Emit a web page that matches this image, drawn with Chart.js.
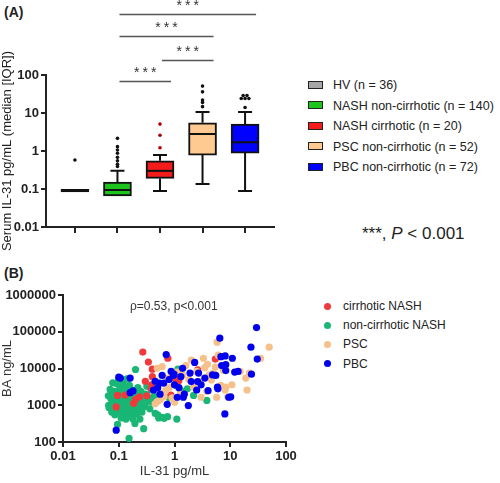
<!DOCTYPE html>
<html lang="en">
<head>
<meta charset="UTF-8" />
<title>IL-31 figure</title>
<script src="https://cdn.jsdelivr.net/npm/chart.js"></script>
<style>
  body { margin: 0; width: 500px; height: 483px; position: relative; background: #fff;
         font-family: Arial, "Liberation Sans", sans-serif; color: #222; overflow: hidden; }
  canvas { position: absolute; }
  .t { position: absolute; white-space: nowrap; line-height: 14px; }
  .panel { font-weight: bold; font-size: 14px; }
  .sw { position: absolute; width: 13px; height: 6px; border: 1.5px solid #222; }
  .dot { position: absolute; width: 7px; height: 7px; border-radius: 50%; }
</style>
</head>
<body>
<div class="t panel" style="left:4px;top:5px">(A)</div>
<div class="t panel" style="left:4px;top:266px">(B)</div>
<canvas id="boxChart" width="280" height="260" style="left:0;top:0"></canvas>
<canvas id="scatterChart" width="300" height="223" style="left:0;top:260px"></canvas>
<div id="legendA"></div>
<div class="t" style="left:362px;top:224px;font-size:17px;line-height:20px">***, <i>P</i> &lt; 0.001</div>
<div class="t" style="left:130px;top:299px;font-size:12px;color:#333">&rho;=0.53, p&lt;0.001</div>
<div id="legendB"></div>
<script>
// ---- panel A data ----
const groups = ["HV (n = 36)", "NASH non-cirrhotic (n = 140)", "NASH cirrhotic (n = 20)",
                "PSC non-cirrhotic (n = 52)", "PBC non-cirrhotic (n = 72)"];
const boxLow = [0.084, 0.066, 0.19, 0.78, 0.88];
const boxHigh = [0.098, 0.153, 0.55, 5.5, 5.1];
const medians = [0.09, 0.094, 0.3, 2.8, 1.7];
const whiskLow = [0.09, 0.066, 0.088, 0.135, 0.088];
const whiskHigh = [0.09, 0.3, 0.78, 10.6, 10.6];
const outliers = [
  [0.58],
  [0.39, 0.45, 0.55, 0.68, 0.87, 1.06, 1.3, 2.15],
  [1.22, 2.6, 5.1],
  [14.7, 19, 22, 36, 51],
  [14, 24, 24, 24, 29, 29]
];
const yTicksA = [0.01, 0.1, 1, 10, 100];
// comparisons: [from group, to group, height]
const brackets = [[1, 4, 4000], [1, 3, 1060], [2, 3, 248], [1, 2, 69]];

// ---- panel B data ([IL-31, BA]) ----
const seriesB = ["cirrhotic NASH", "non-cirrhotic NASH", "PSC", "PBC"];
const cirrNash = [[0.09,900],[0.095,1850],[0.13,1900],[0.185,1130],[0.2,1450],[0.235,1700],[0.27,28000],
  [0.3,4500],[0.32,1800],[0.34,15000],[0.38,2900],[0.39,3600],[0.4,6000],[0.4,9600],[0.76,19000],
  [0.86,1900],[1.05,5200],[1.2,4700],[2.6,9200],[5.4,18000]];
const nonCirrNash = [[0.065,1800],[0.066,1000],[0.067,850],[0.07,2700],[0.072,1500],[0.075,650],[0.078,4100],
  [0.08,1900],[0.08,1200],[0.082,800],[0.085,550],[0.085,2400],[0.088,1600],[0.09,3900],[0.09,1000],
  [0.092,700],[0.095,300],[0.095,1300],[0.1,2200],[0.1,5000],[0.1,850],[0.1,600],[0.105,1700],[0.105,3100],
  [0.11,1100],[0.11,450],[0.112,750],[0.115,2600],[0.118,1400],[0.12,950],[0.12,3800],[0.122,650],
  [0.125,1900],[0.125,550],[0.13,1200],[0.13,2900],[0.135,800],[0.135,420],[0.14,1600],[0.14,5200],
  [0.145,1000],[0.15,700],[0.15,2300],[0.153,126],[0.155,3500],[0.16,1300],[0.16,500],[0.165,850],
  [0.17,1900],[0.17,620],[0.175,2600],[0.18,1100],[0.18,420],[0.185,750],[0.19,1500],[0.195,320],
  [0.2,9400],[0.2,950],[0.2,2000],[0.21,580],[0.21,1250],[0.22,3000],[0.22,800],[0.23,1700],[0.24,1050],
  [0.24,420],[0.25,2400],[0.26,650],[0.27,1400],[0.28,230],[0.28,900],[0.3,2000],[0.3,1100],[0.32,3300],
  [0.33,1600],[0.35,1300],[0.36,800],[0.38,2600],[0.4,1200],[0.42,1700],[0.45,600],[0.46,1750],[0.5,550],
  [0.52,450],[0.6,470],[0.65,440],[0.75,490],[0.8,1600],[1.05,3500],[1.1,420],[1.15,9600],[1.3,2500],
  [1.7,2800],[2.2,1850],[3.8,1350]];
const psc = [[0.45,1100],[0.49,1260],[0.49,10100],[0.55,1400],[0.6,11300],[0.65,1700],[0.69,2500],[0.75,5500],
  [0.8,3000],[0.9,1600],[1,1200],[1.1,8000],[1.3,2000],[1.4,6700],[1.6,12000],[1.8,5000],[2,17000],
  [2.2,3100],[2.5,8300],[2.8,4500],[3,1650],[3.3,19000],[3.5,10500],[3.8,2400],[3.9,13000],[4.2,6700],
  [4.6,4900],[5,7500],[5.4,11000],[5.7,1650],[5.8,52000],[6.1,23000],[6.8,3500],[7.5,9000],[8.1,2600],
  [8.3,3100],[9,1700],[10.7,3600],[15,8300],[19,5500],[20,2600],[22,7500],[35,19000],[50,38000]];
const pbc = [[0.09,210],[0.1,5800],[0.107,5500],[0.16,5500],[0.16,2200],[0.18,2450],[0.42,2600],[0.45,4500],
  [0.5,3000],[0.54,4000],[0.55,2000],[0.6,6500],[0.64,4000],[0.71,24000],[0.74,1060],[0.8,5000],[0.87,8300],
  [0.95,6500],[0.98,7000],[1,3600],[1.12,1650],[1.2,3000],[1.3,6000],[1.4,10100],[1.44,1650],[1.5,2000],
  [1.77,980],[1.9,7500],[2,4400],[2.3,14600],[2.5,2600],[2.6,4400],[2.7,7500],[3,3600],[3.5,5500],[4,2500],
  [4.8,6700],[5.5,6500],[5.9,3100],[6,2800],[6.5,67000],[6.8,21000],[7,12000],[8,580],[8.1,22000],
  [8.3,12700],[8.3,8800],[9.4,1650],[10.2,1700],[10.9,19000],[12,8000],[13.8,8300],[23.5,38000],[24,7000],
  [29.6,130000],[30.5,18000]];
const xTicksB = [0.01, 0.1, 1, 10, 100];
const yTicksB = [100, 1000, 10000, 100000, 1000000];

const boxColors = ["#a6a6a6", "#1ec41e", "#f21c1c", "#ffc992", "#0000ff"];
const outlierColors = ["#111", "#111", "#b00000", "#111", "#111"];
const dotColors = ["#f0393c", "#19b676", "#f5c08a", "#0000ee"];

// legends as html
const legA = document.getElementById("legendA");
groups.forEach((g, i) => {
  const top = 85 + i * 20.5;
  legA.insertAdjacentHTML("beforeend",
    `<div class="sw" style="left:308px;top:${top - 4.5}px;background:${boxColors[i]}"></div>` +
    `<div class="t" style="left:333px;top:${top - 7}px;font-size:12.5px">${g}</div>`);
});
const legB = document.getElementById("legendB");
seriesB.forEach((s, i) => {
  const top = 306 + i * 19.2;
  legB.insertAdjacentHTML("beforeend",
    `<div class="dot" style="left:323.5px;top:${top - 3.5}px;background:${dotColors[i]}"></div>` +
    `<div class="t" style="left:343px;top:${top - 7}px;font-size:12px">${s}</div>`);
});

// outlier points, repeated values spread sideways
const outPts = [], outCols = [];
outliers.forEach((vals, i) => {
  const counts = {}, seen = {};
  vals.forEach(v => counts[v] = (counts[v] || 0) + 1);
  vals.forEach(v => {
    const k = seen[v] = (seen[v] || 0) + 1;
    outPts.push({ x: i + (k - 1 - (counts[v] - 1) / 2) * 0.09, y: v });
    outCols.push(outlierColors[i]);
  });
});

const tickFont = { family: "Arial", size: 13, weight: "bold" };
const axisLine = { color: "#222", width: 2 };
const tickGrid = { display: true, drawOnChartArea: false, drawTicks: true, tickLength: 5, color: "#222", lineWidth: 2 };

const boxExtras = {
  id: "boxExtras",
  beforeDatasetsDraw(chart) {
    const { ctx, scales: { x, y } } = chart;
    ctx.save();
    ctx.strokeStyle = "#111";
    ctx.lineWidth = 2;
    groups.forEach((g, i) => {
      const cx = x.getPixelForValue(i);
      [[boxHigh[i], whiskHigh[i]], [boxLow[i], whiskLow[i]]].forEach(([b, w]) => {
        if (Math.abs(Math.log10(b / w)) < 0.05) return;
        ctx.beginPath();
        ctx.moveTo(cx, y.getPixelForValue(b));
        ctx.lineTo(cx, y.getPixelForValue(w));
        ctx.moveTo(cx - 7, y.getPixelForValue(w));
        ctx.lineTo(cx + 7, y.getPixelForValue(w));
        ctx.stroke();
      });
    });
    ctx.restore();
  },
  afterDatasetsDraw(chart) {
    const { ctx, scales: { x, y } } = chart;
    ctx.save();
    ctx.strokeStyle = "#111";
    ctx.lineWidth = 2;
    groups.forEach((g, i) => {
      const cx = x.getPixelForValue(i);
      const my = y.getPixelForValue(medians[i]);
      ctx.beginPath();
      ctx.moveTo(cx - 13, my);
      ctx.lineTo(cx + 13, my);
      ctx.stroke();
    });
    // significance brackets
    ctx.strokeStyle = "#555";
    ctx.lineWidth = 1.5;
    ctx.fillStyle = "#333";
    ctx.font = "14px Arial";
    ctx.letterSpacing = "3px";
    ctx.textAlign = "center";
    ctx.textBaseline = "middle";
    brackets.forEach(([a, b, v]) => {
      const x1 = x.getPixelForValue(a) + 2, x2 = x.getPixelForValue(b) + 11;
      const by = Math.round(y.getPixelForValue(v)) + 0.5;
      ctx.beginPath();
      ctx.moveTo(x1, by);
      ctx.lineTo(x2, by);
      ctx.stroke();
      ctx.fillText("***", (x1 + x2) / 2 + 1.5, by - 8);
    });
    ctx.restore();
  }
};

new Chart(document.getElementById("boxChart"), {
  type: "scatter",
  data: {
    datasets: [
      {
        type: "scatter",
        data: outPts,
        pointRadius: 1.8,
        pointBackgroundColor: outCols,
        pointBorderWidth: 0
      },
      {
        type: "bar",
        data: groups.map((g, i) => ({ x: i, y: [boxLow[i], boxHigh[i]] })),
        backgroundColor: boxColors,
        borderColor: "#111",
        borderWidth: 2,
        borderSkipped: false,
        barThickness: 28
      }
    ]
  },
  options: {
    responsive: false,
    animation: false,
    layout: { padding: { top: 75, right: 6, left: 0, bottom: 0 } },
    plugins: { legend: { display: false }, tooltip: { enabled: false } },
    scales: {
      x: {
        type: "linear",
        min: -0.68,
        max: 4.68,
        offset: false,
        border: axisLine,
        grid: { ...tickGrid, offset: false, tickLength: 6 },
        ticks: { callback: () => "", font: tickFont },
        afterBuildTicks: s => { s.ticks = groups.map((g, i) => ({ value: i })); },
        afterFit: s => { s.height = 33; }
      },
      y: {
        type: "logarithmic",
        min: 0.01,
        max: 100,
        border: axisLine,
        grid: tickGrid,
        ticks: { color: "#222", font: tickFont, padding: 2, callback: v => String(v) },
        afterBuildTicks: s => { s.ticks = yTicksA.map(v => ({ value: v })); },
        afterFit: s => { s.width = 46; },
        title: { display: true, text: "Serum IL-31 pg/mL (median [IQR])", color: "#222",
                 font: { family: "Arial", size: 13 }, padding: 0 }
      }
    }
  },
  plugins: [boxExtras]
});

const toPts = arr => arr.map(([a, b]) => ({ x: a, y: b }));
new Chart(document.getElementById("scatterChart"), {
  type: "scatter",
  data: {
    datasets: [
      { label: seriesB[3], data: toPts(pbc), backgroundColor: dotColors[3] },
      { label: seriesB[2], data: toPts(psc), backgroundColor: dotColors[2] },
      { label: seriesB[0], data: toPts(cirrNash), backgroundColor: dotColors[0] },
      { label: seriesB[1], data: toPts(nonCirrNash), backgroundColor: dotColors[1] }
    ].map(d => ({ ...d, pointRadius: 3.6, pointBorderWidth: 0 }))
  },
  options: {
    responsive: false,
    animation: false,
    layout: { padding: { top: 35, right: 14, left: 0, bottom: 0 } },
    plugins: { legend: { display: false }, tooltip: { enabled: false } },
    scales: {
      x: {
        type: "logarithmic",
        min: 0.01,
        max: 100,
        border: axisLine,
        grid: tickGrid,
        ticks: { color: "#222", font: tickFont, padding: 2, maxRotation: 0, callback: v => String(v) },
        afterBuildTicks: s => { s.ticks = xTicksB.map(v => ({ value: v })); },
        afterFit: s => { s.height = 41; },
        title: { display: true, text: "IL-31 pg/mL", color: "#333",
                 font: { family: "Arial", size: 13 }, padding: { top: 0, bottom: 4 } }
      },
      y: {
        type: "logarithmic",
        min: 100,
        max: 1000000,
        border: axisLine,
        grid: tickGrid,
        ticks: { color: "#222", font: tickFont, padding: 2, callback: v => String(v) },
        afterBuildTicks: s => { s.ticks = yTicksB.map(v => ({ value: v })); },
        afterFit: s => { s.width = 63; },
        title: { display: true, text: "BA ng/mL", color: "#333",
                 font: { family: "Arial", size: 13 }, padding: 0 }
      }
    }
  }
});
</script>
</body>
</html>
